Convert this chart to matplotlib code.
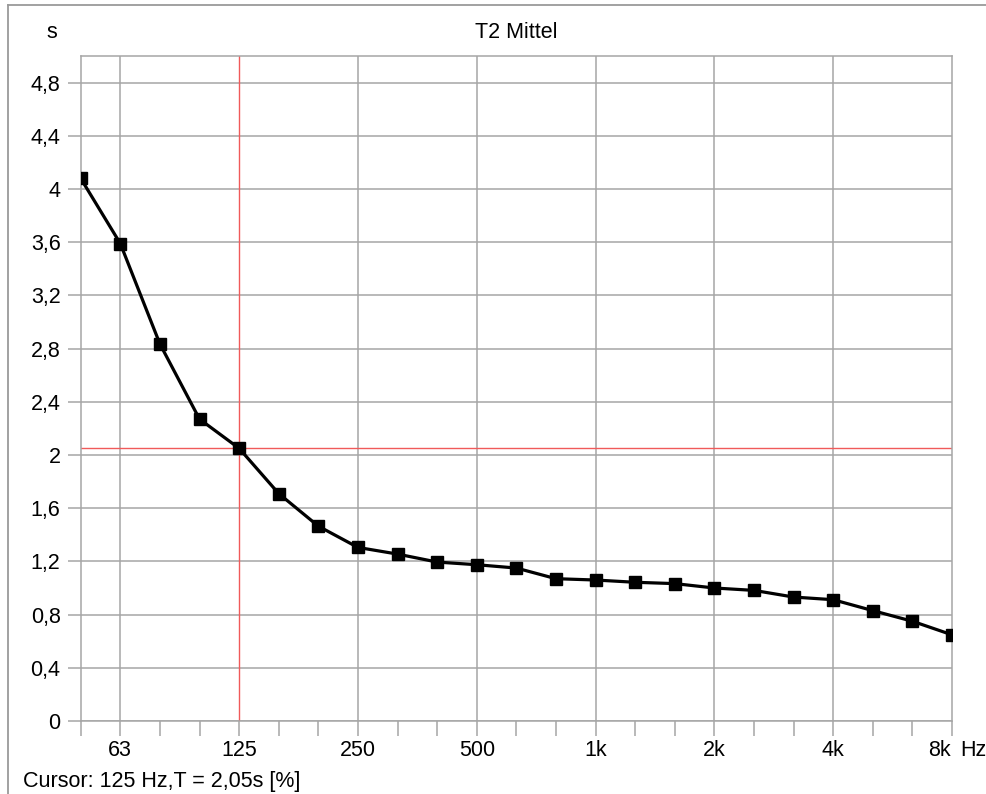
import matplotlib
matplotlib.use("Agg")
import matplotlib.pyplot as plt
from matplotlib.lines import Line2D
import numpy as np

plt.rcParams['font.family'] = ['Liberation Sans', 'DejaVu Sans']

# third-octave bands 50 Hz .. 8 kHz
bands = ['50', '63', '80', '100', '125', '160', '200', '250', '315', '400', '500',
         '630', '800', '1k', '1.25k', '1.6k', '2k', '2.5k', '3.15k', '4k', '5k',
         '6.3k', '8k']
t2 = [4.08, 3.59, 2.835, 2.27, 2.05, 1.71, 1.465, 1.305, 1.255, 1.195, 1.175,
      1.15, 1.07, 1.06, 1.043, 1.033, 1.0, 0.982, 0.932, 0.912, 0.83, 0.75, 0.648]
octave_labels = ['63', '125', '250', '500', '1k', '2k', '4k']
y_ticks = [0, 0.4, 0.8, 1.2, 1.6, 2.0, 2.4, 2.8, 3.2, 3.6, 4.0, 4.4, 4.8]
cursor_band = '125'
cursor_value = 2.05

grid_col = '#a6a6a6'
red = '#f05a5a'
fs = 15.5

fig = plt.figure(figsize=(9.87, 7.94), dpi=100)
ax = fig.add_axes([80.7 / 987, 1 - 721 / 794, (952 - 80.7) / 987, (721 - 56) / 794])

x = np.arange(len(bands))
oct_pos = [bands.index(b) for b in octave_labels]
cx = bands.index(cursor_band)

# grid: horizontal at every tick, vertical only at octaves
for yv in y_ticks:
    ax.axhline(yv, color=grid_col, lw=1.1, zorder=1)
for xp in oct_pos:
    if xp != cx:
        ax.axvline(xp, color=grid_col, lw=1.1, zorder=1)

# cursor
ax.axvline(cx, color=red, lw=1.0, zorder=2)
ax.axhline(cursor_value, color=red, lw=1.0, zorder=2)

ax.plot(x, t2, color='black', lw=2.3, marker='s', markersize=8.5, zorder=3)

ax.set_xlim(0, len(bands) - 1)
ax.set_ylim(0, 5.0)

ax.set_yticks(y_ticks)
ax.set_yticklabels([('%g' % v).replace('.', ',') for v in y_ticks], fontsize=fs)
ax.tick_params(axis='y', length=9.5, width=1.1, color=grid_col, pad=5)

ax.set_xticks(x)
ax.set_xticklabels([b if b in octave_labels else '' for b in bands], fontsize=fs)
ax.tick_params(axis='x', length=11, width=1.1, color=grid_col, pad=3)

for sp in ax.spines.values():
    sp.set_color(grid_col)
    sp.set_linewidth(1.1)

# 8k label and unit, aligned with the other tick labels
lab_off = -(11 + 3) * 100 / 72
ax.annotate('8k', xy=(len(bands) - 1, 0), xycoords=('data', 'axes fraction'),
            xytext=(-1, lab_off), textcoords='offset pixels', ha='right', va='top', fontsize=fs)
ax.annotate('Hz', xy=(len(bands) - 1, 0), xycoords=('data', 'axes fraction'),
            xytext=(8, lab_off), textcoords='offset pixels', ha='left', va='top', fontsize=fs)

fig.text(516 / 987, 1 - 32 / 794, 'T2 Mittel', ha='center', va='center', fontsize=fs)
fig.text(52 / 987, 1 - 33 / 794, 's', ha='center', va='center', fontsize=fs)
fig.text(23 / 987, 1 - 782 / 794, 'Cursor: 125 Hz,T = 2,05s [%]', ha='left', va='center', fontsize=fs)

# outer frame (top and left edges visible)
fig.add_artist(Line2D([8 / 987, 1], [1 - 5 / 794, 1 - 5 / 794], transform=fig.transFigure,
                      color='#9a9a9a', lw=1.3))
fig.add_artist(Line2D([8 / 987, 8 / 987], [0, 1 - 5 / 794], transform=fig.transFigure,
                      color='#9a9a9a', lw=1.3))

fig.savefig('out.png', dpi=100)
